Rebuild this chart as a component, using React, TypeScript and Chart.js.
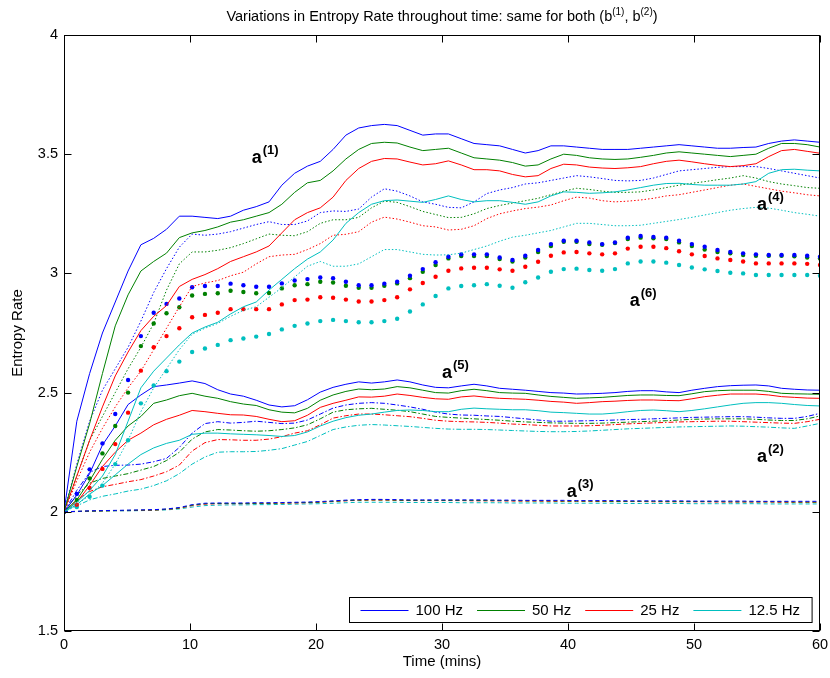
import React, { useEffect, useRef } from "react";
import { Chart, registerables } from "chart.js";

Chart.register(...registerables);

const FONT = "'Liberation Sans', Arial, Helvetica, sans-serif";

// sample times (60 samples spanning 0..60 min)
const TIMES = Array.from({ length: 60 }, (_, i) => (i * 60) / 59);

const X_TICKS = [0, 10, 20, 30, 40, 50, 60];
const Y_TICKS = [1.5, 2, 2.5, 3, 3.5, 4];
const FREQS = ["100 Hz", "50 Hz", "25 Hz", "12.5 Hz"];
const COLORS = ["#0000ff", "#008000", "#ff0000", "#00bfbf"];

// a(1): solid
const a1_100 = [
  2.0, 2.38, 2.58, 2.75, 2.88, 3.01, 3.12, 3.147, 3.185, 3.24,
  3.24, 3.235, 3.23, 3.24, 3.265, 3.28, 3.3, 3.37, 3.42, 3.45,
  3.47, 3.52, 3.58, 3.61, 3.62, 3.625, 3.62, 3.6, 3.58, 3.585,
  3.585, 3.565, 3.545, 3.54, 3.535, 3.52, 3.505, 3.515, 3.535, 3.535,
  3.53, 3.525, 3.52, 3.52, 3.52, 3.525, 3.53, 3.535, 3.54, 3.535,
  3.53, 3.525, 3.525, 3.528, 3.53, 3.545, 3.555, 3.56, 3.555, 3.55,
];
const a1_50 = [
  2.0, 2.19, 2.37, 2.58, 2.78, 2.91, 3.01, 3.05, 3.085, 3.15,
  3.17, 3.18, 3.195, 3.215, 3.225, 3.24, 3.255, 3.29, 3.34, 3.38,
  3.39, 3.43, 3.48, 3.52, 3.545, 3.55, 3.547, 3.53, 3.515, 3.52,
  3.525, 3.505, 3.485, 3.48, 3.475, 3.465, 3.45, 3.455, 3.48, 3.5,
  3.495, 3.485, 3.48, 3.478, 3.48, 3.487, 3.495, 3.505, 3.51, 3.505,
  3.5, 3.495, 3.49, 3.495, 3.5, 3.525, 3.545, 3.545, 3.54, 3.53,
];
const a1_25 = [
  2.0, 2.15, 2.3, 2.44, 2.57, 2.67, 2.76, 2.82, 2.865, 2.945,
  2.975, 2.995, 3.02, 3.05, 3.07, 3.09, 3.115, 3.17, 3.225, 3.255,
  3.275, 3.32, 3.39, 3.44, 3.47, 3.482, 3.48, 3.467, 3.455, 3.46,
  3.472, 3.455, 3.435, 3.435, 3.43, 3.415, 3.405, 3.41, 3.44, 3.458,
  3.455, 3.446, 3.442, 3.44, 3.443, 3.448, 3.46, 3.47, 3.475, 3.468,
  3.46, 3.453, 3.448, 3.452, 3.46, 3.49, 3.515, 3.52, 3.512, 3.504,
];
const a1_12 = [
  2.0, 2.04, 2.09, 2.15, 2.24, 2.38, 2.52, 2.59, 2.645, 2.7,
  2.75, 2.775, 2.795, 2.83, 2.86, 2.88, 2.93, 2.975, 3.02, 3.06,
  3.09, 3.14, 3.21, 3.255, 3.29, 3.305, 3.308, 3.303, 3.298, 3.31,
  3.325, 3.31, 3.3, 3.305, 3.305, 3.298, 3.29, 3.3, 3.325, 3.342,
  3.34, 3.336, 3.338, 3.342, 3.35, 3.36, 3.37, 3.377, 3.378, 3.373,
  3.37, 3.37, 3.37, 3.375, 3.385, 3.42, 3.435, 3.437, 3.433, 3.43,
];

// a(4): dotted
const a4_100 = [
  2.0, 2.2, 2.38, 2.51, 2.6, 2.69, 2.8, 2.92, 3.02, 3.11,
  3.165, 3.16, 3.165, 3.175, 3.19, 3.205, 3.217, 3.205, 3.205, 3.22,
  3.255, 3.262, 3.26, 3.27, 3.32, 3.355, 3.345, 3.325, 3.3, 3.29,
  3.277, 3.275, 3.3, 3.335, 3.35, 3.36, 3.375, 3.38, 3.39, 3.4,
  3.41, 3.405, 3.398, 3.39, 3.388, 3.39, 3.4, 3.415, 3.43, 3.435,
  3.44, 3.445, 3.448, 3.448, 3.448, 3.44, 3.43, 3.42, 3.41, 3.4,
];
const a4_50 = [
  2.0, 2.15, 2.3, 2.4, 2.5, 2.6, 2.69, 2.79, 2.93, 3.04,
  3.09, 3.09, 3.097, 3.108, 3.125, 3.145, 3.165, 3.16, 3.158, 3.175,
  3.21, 3.225, 3.225, 3.235, 3.275, 3.303, 3.298, 3.28, 3.26, 3.247,
  3.234, 3.235, 3.25, 3.272, 3.285, 3.295, 3.305, 3.315, 3.33, 3.345,
  3.357, 3.352, 3.345, 3.34, 3.34, 3.342, 3.35, 3.36, 3.37, 3.378,
  3.385, 3.393, 3.4, 3.41, 3.4, 3.385, 3.375, 3.368, 3.36, 3.357,
];
const a4_25 = [
  2.0, 2.13, 2.25, 2.35, 2.44, 2.52, 2.59, 2.68, 2.77, 2.86,
  2.945, 2.96, 2.97, 2.99, 3.005, 3.04, 3.07, 3.077, 3.08, 3.1,
  3.125, 3.16, 3.164, 3.175, 3.215, 3.236, 3.228, 3.215, 3.2, 3.195,
  3.182, 3.185, 3.2, 3.23, 3.25, 3.262, 3.272, 3.278, 3.287, 3.305,
  3.32, 3.316, 3.305, 3.3, 3.303, 3.308, 3.315, 3.325, 3.33, 3.34,
  3.35, 3.36, 3.37, 3.375, 3.365, 3.355, 3.345, 3.338, 3.33, 3.325,
];
const a4_12 = [
  2.0, 2.03, 2.07, 2.12, 2.2, 2.3, 2.42, 2.52, 2.6, 2.68,
  2.745, 2.77, 2.79, 2.82, 2.845, 2.86, 2.9, 2.94, 2.985, 3.03,
  3.05, 3.03, 3.03, 3.04, 3.07, 3.1, 3.1, 3.09, 3.08, 3.077,
  3.078, 3.085, 3.1, 3.115, 3.135, 3.152, 3.16, 3.17, 3.18, 3.195,
  3.21, 3.21, 3.205, 3.2, 3.2, 3.202, 3.21, 3.218, 3.226, 3.235,
  3.245, 3.255, 3.265, 3.272, 3.277, 3.274, 3.265, 3.255, 3.248, 3.24,
];

// a(6): dots
const a6_100 = [
  2.0, 2.075, 2.178, 2.287, 2.41, 2.553, 2.737, 2.835, 2.872, 2.895,
  2.942, 2.947, 2.947, 2.957, 2.95, 2.944, 2.944, 2.958, 2.97, 2.976,
  2.983, 2.98, 2.965, 2.95, 2.95, 2.957, 2.965, 2.99, 3.018, 3.047,
  3.07, 3.08, 3.08, 3.08, 3.067, 3.056, 3.074, 3.098, 3.123, 3.137,
  3.137, 3.13, 3.123, 3.13, 3.15, 3.157, 3.153, 3.15, 3.137, 3.123,
  3.112, 3.098, 3.09, 3.084, 3.08, 3.077, 3.077, 3.077, 3.074, 3.07,
];
const a6_50 = [
  2.0, 2.05, 2.14, 2.245, 2.36, 2.5, 2.695, 2.79, 2.833, 2.858,
  2.907, 2.914, 2.917, 2.927, 2.922, 2.917, 2.918, 2.937, 2.95, 2.955,
  2.965, 2.962, 2.948, 2.94, 2.94, 2.948, 2.958, 2.98, 3.007, 3.035,
  3.063, 3.073, 3.073, 3.073, 3.06, 3.05, 3.067, 3.09, 3.115, 3.133,
  3.133, 3.123, 3.12, 3.127, 3.144, 3.15, 3.147, 3.144, 3.13, 3.115,
  3.1, 3.09, 3.084, 3.077, 3.074, 3.074, 3.074, 3.072, 3.067, 3.063,
];
const a6_25 = [
  2.0, 2.03, 2.1, 2.18, 2.284, 2.416, 2.592, 2.69, 2.737, 2.77,
  2.816, 2.826, 2.835, 2.85, 2.85, 2.85, 2.85, 2.87, 2.888, 2.89,
  2.9, 2.898, 2.89, 2.882, 2.882, 2.888, 2.9, 2.933, 2.96, 2.986,
  3.011, 3.021, 3.024, 3.024, 3.017, 3.011, 3.028, 3.049, 3.074, 3.088,
  3.09, 3.084, 3.08, 3.084, 3.104, 3.112, 3.112, 3.106, 3.093, 3.08,
  3.073, 3.063, 3.056, 3.05, 3.042, 3.042, 3.042, 3.042, 3.04, 3.035,
];
const a6_12 = [
  2.0, 2.02, 2.063, 2.11, 2.2, 2.3, 2.455, 2.53, 2.59, 2.63,
  2.67, 2.685, 2.7, 2.72, 2.727, 2.735, 2.746, 2.765, 2.78, 2.79,
  2.8, 2.805, 2.8, 2.795, 2.795, 2.8, 2.81, 2.84, 2.87, 2.905,
  2.937, 2.947, 2.95, 2.955, 2.948, 2.94, 2.963, 2.983, 3.007, 3.018,
  3.02, 3.014, 3.011, 3.018, 3.042, 3.05, 3.05, 3.045, 3.035, 3.025,
  3.017, 3.01, 3.003, 3.0, 2.993, 2.993, 2.993, 2.993, 2.993, 2.99,
];

// a(5): solid
const a5_100 = [
  2.0, 2.07, 2.16, 2.28, 2.36, 2.45, 2.49, 2.525, 2.532, 2.54,
  2.549, 2.538, 2.512, 2.494, 2.485, 2.468, 2.448, 2.44, 2.445, 2.47,
  2.502, 2.522, 2.535, 2.545, 2.54, 2.545, 2.553, 2.545, 2.532, 2.522,
  2.52, 2.528, 2.535, 2.528, 2.518, 2.514, 2.51, 2.505, 2.5, 2.498,
  2.494, 2.495, 2.497, 2.5, 2.505, 2.508, 2.508, 2.503, 2.5, 2.51,
  2.518, 2.525, 2.529, 2.531, 2.532, 2.528, 2.518, 2.514, 2.511, 2.51,
];
const a5_50 = [
  2.0, 2.05, 2.13, 2.22, 2.3, 2.36, 2.4, 2.455, 2.469, 2.487,
  2.497, 2.485, 2.476, 2.462, 2.452, 2.446, 2.428, 2.418, 2.415, 2.434,
  2.468, 2.49, 2.505, 2.515, 2.512, 2.515, 2.525, 2.52, 2.51, 2.5,
  2.498, 2.508, 2.514, 2.508, 2.5, 2.498, 2.497, 2.49, 2.484, 2.48,
  2.476, 2.478, 2.48, 2.484, 2.488, 2.49, 2.49, 2.488, 2.487, 2.495,
  2.504, 2.508, 2.51, 2.51, 2.51, 2.505, 2.497, 2.495, 2.494, 2.493,
];
const a5_25 = [
  2.0, 2.04, 2.11, 2.19, 2.25, 2.3, 2.33, 2.365, 2.388, 2.405,
  2.425, 2.42, 2.413, 2.407, 2.406, 2.4, 2.388, 2.378, 2.382, 2.405,
  2.438, 2.455, 2.468, 2.482, 2.481, 2.485, 2.494, 2.488, 2.48, 2.474,
  2.472, 2.482, 2.486, 2.48, 2.476, 2.474, 2.472, 2.468, 2.463, 2.46,
  2.455, 2.458, 2.462, 2.464, 2.467, 2.469, 2.469, 2.467, 2.466, 2.474,
  2.483, 2.489, 2.494, 2.494, 2.494, 2.49, 2.483, 2.48, 2.477, 2.476,
];
const a5_12 = [
  2.0, 2.03, 2.075, 2.11, 2.155, 2.2, 2.24, 2.268, 2.287, 2.3,
  2.325, 2.33, 2.33, 2.327, 2.325, 2.323, 2.32, 2.316, 2.32, 2.335,
  2.36, 2.38, 2.395, 2.405, 2.41, 2.418, 2.425, 2.427, 2.425, 2.42,
  2.42, 2.43, 2.435, 2.432, 2.43, 2.428, 2.428, 2.424, 2.418, 2.416,
  2.413, 2.41, 2.41, 2.414, 2.42, 2.425, 2.427, 2.424, 2.42, 2.425,
  2.432, 2.44, 2.448, 2.455, 2.458, 2.458, 2.455, 2.45, 2.446, 2.444,
];

// a(2): dash-dot
const a2_100 = [
  2.0, 2.09, 2.165, 2.19, 2.195, 2.196, 2.2, 2.21, 2.224, 2.27,
  2.33, 2.37, 2.378, 2.372, 2.375, 2.38, 2.375, 2.37, 2.372, 2.385,
  2.41, 2.435, 2.448, 2.455, 2.458, 2.455, 2.448, 2.44, 2.43, 2.418,
  2.41, 2.406, 2.405, 2.402, 2.4, 2.395, 2.39, 2.385, 2.38, 2.38,
  2.381, 2.382, 2.383, 2.385, 2.387, 2.388, 2.39, 2.392, 2.394, 2.396,
  2.397, 2.398, 2.399, 2.399, 2.397, 2.394, 2.392, 2.392, 2.4, 2.413,
];
const a2_50 = [
  2.0, 2.07, 2.12, 2.14, 2.15, 2.16, 2.175, 2.19, 2.215, 2.25,
  2.305, 2.335, 2.345, 2.343, 2.34, 2.338, 2.34, 2.345, 2.352, 2.365,
  2.39, 2.418, 2.428, 2.432, 2.434, 2.43, 2.426, 2.42, 2.41, 2.4,
  2.396, 2.393, 2.39, 2.387, 2.384, 2.38, 2.377, 2.375, 2.373, 2.372,
  2.371, 2.371, 2.372, 2.374, 2.376, 2.378, 2.38, 2.382, 2.385, 2.388,
  2.389, 2.39, 2.39, 2.39, 2.388, 2.385, 2.383, 2.383, 2.39, 2.402,
];
const a2_25 = [
  2.0, 2.05, 2.085, 2.105, 2.115, 2.126, 2.135, 2.15, 2.168, 2.196,
  2.255, 2.29, 2.303, 2.302, 2.3, 2.3, 2.305, 2.315, 2.33, 2.34,
  2.365, 2.393, 2.403, 2.41, 2.41, 2.407, 2.403, 2.399, 2.392, 2.384,
  2.38, 2.378, 2.377, 2.375, 2.372, 2.368, 2.366, 2.363, 2.36, 2.36,
  2.36, 2.361, 2.363, 2.366, 2.369, 2.371, 2.373, 2.375, 2.377, 2.378,
  2.379, 2.38, 2.38, 2.378, 2.376, 2.374, 2.372, 2.371, 2.378, 2.388,
];
const a2_12 = [
  2.0, 2.025, 2.05, 2.065, 2.075, 2.087, 2.095, 2.11, 2.13, 2.16,
  2.2, 2.23, 2.25, 2.252, 2.252, 2.253, 2.258, 2.265, 2.28, 2.295,
  2.32, 2.345, 2.356, 2.363, 2.366, 2.364, 2.361, 2.358, 2.354, 2.35,
  2.347, 2.346, 2.346, 2.345, 2.343, 2.341, 2.339, 2.337, 2.336, 2.336,
  2.337, 2.339, 2.342, 2.345, 2.348, 2.35, 2.352, 2.354, 2.356, 2.357,
  2.358, 2.359, 2.36, 2.359, 2.357, 2.355, 2.352, 2.35, 2.36, 2.371,
];

// a(3): dashed
const a3_100 = [
  2.0, 2.002, 2.004, 2.005, 2.006, 2.007, 2.008, 2.009, 2.012, 2.018,
  2.03, 2.036, 2.037, 2.037, 2.037, 2.038, 2.038, 2.039, 2.04, 2.041,
  2.043, 2.046, 2.049, 2.051, 2.052, 2.052, 2.051, 2.05, 2.05, 2.05,
  2.05, 2.05, 2.05, 2.05, 2.049, 2.049, 2.048, 2.048, 2.048, 2.048,
  2.047, 2.047, 2.047, 2.047, 2.046, 2.046, 2.046, 2.046, 2.046, 2.045,
  2.045, 2.045, 2.045, 2.045, 2.044, 2.044, 2.044, 2.044, 2.044, 2.044,
];
const a3_50 = [
  2.0, 2.002, 2.003, 2.004, 2.005, 2.006, 2.007, 2.008, 2.011, 2.016,
  2.028, 2.034, 2.035, 2.035, 2.035, 2.036, 2.036, 2.037, 2.038, 2.039,
  2.041, 2.044, 2.047, 2.049, 2.05, 2.05, 2.049, 2.048, 2.048, 2.048,
  2.048, 2.048, 2.048, 2.047, 2.047, 2.047, 2.046, 2.046, 2.046, 2.045,
  2.045, 2.045, 2.045, 2.044, 2.044, 2.044, 2.044, 2.043, 2.043, 2.043,
  2.043, 2.043, 2.042, 2.042, 2.042, 2.042, 2.042, 2.041, 2.041, 2.041,
];
const a3_25 = [
  2.0, 2.001, 2.003, 2.004, 2.005, 2.005, 2.006, 2.007, 2.01, 2.015,
  2.026, 2.032, 2.034, 2.034, 2.034, 2.035, 2.035, 2.036, 2.037, 2.038,
  2.04, 2.043, 2.046, 2.048, 2.049, 2.049, 2.048, 2.047, 2.047, 2.047,
  2.047, 2.047, 2.046, 2.046, 2.046, 2.045, 2.045, 2.045, 2.044, 2.044,
  2.044, 2.044, 2.043, 2.043, 2.043, 2.043, 2.042, 2.042, 2.042, 2.042,
  2.042, 2.041, 2.041, 2.041, 2.041, 2.041, 2.04, 2.04, 2.04, 2.04,
];
const a3_12 = [
  2.0, 2.001, 2.002, 2.003, 2.004, 2.004, 2.005, 2.006, 2.008, 2.012,
  2.02, 2.026, 2.028, 2.029, 2.029, 2.03, 2.03, 2.031, 2.032, 2.033,
  2.034, 2.036, 2.038, 2.04, 2.04, 2.04, 2.04, 2.039, 2.039, 2.039,
  2.039, 2.038, 2.038, 2.038, 2.038, 2.037, 2.037, 2.037, 2.037, 2.036,
  2.036, 2.036, 2.036, 2.036, 2.035, 2.035, 2.035, 2.035, 2.035, 2.034,
  2.034, 2.034, 2.034, 2.034, 2.034, 2.033, 2.033, 2.033, 2.033, 2.033,
];

const GROUPS = [
  { kind: "solid", series: [a1_100, a1_50, a1_25, a1_12] },
  { kind: "dotted", series: [a4_100, a4_50, a4_25, a4_12] },
  { kind: "dots", series: [a6_100, a6_50, a6_25, a6_12] },
  { kind: "solid", series: [a5_100, a5_50, a5_25, a5_12] },
  { kind: "dashdot", series: [a2_100, a2_50, a2_25, a2_12] },
  { kind: "dashed", series: [a3_100, a3_50, a3_25, a3_12] },
];

// group labels a^(k), anchored in data coordinates
const LABEL_NAMES = ["(1)", "(4)", "(6)", "(5)", "(2)", "(3)"];
const LABEL_X = [14.9, 55.0, 44.9, 30.0, 55.0, 39.9];
const LABEL_Y = [3.463, 3.266, 2.863, 2.561, 2.209, 2.062];

const TITLE_PARTS: [string, boolean][] = [
  ["Variations in Entropy Rate throughout time: same for both (b", false],
  ["(1)", true],
  [", b", false],
  ["(2)", true],
  [")", false],
];

const DASHES: Record<string, number[]> = {
  solid: [],
  dotted: [1.5, 2],
  dashdot: [5, 2, 1.5, 2],
  dashed: [4, 3],
};

const decorPlugin = {
  id: "decor",
  afterDraw(chart: any) {
    const { ctx, chartArea: ca, scales } = chart;
    const xs = scales.x;
    const ys = scales.y;
    ctx.save();
    // frame
    ctx.strokeStyle = "#000";
    ctx.lineWidth = 1;
    ctx.setLineDash([]);
    const L = Math.round(ca.left) + 0.5;
    const R = Math.round(ca.right) - 0.5;
    const T = Math.round(ca.top) + 0.5;
    const B = Math.round(ca.bottom) - 0.5;
    ctx.strokeRect(L, T, R - L, B - T);
    const tl = 7;
    ctx.beginPath();
    X_TICKS.forEach((v) => {
      const p = Math.round(xs.getPixelForValue(v)) + 0.5;
      ctx.moveTo(p, B);
      ctx.lineTo(p, B - tl);
      ctx.moveTo(p, T);
      ctx.lineTo(p, T + tl);
    });
    Y_TICKS.forEach((v) => {
      const p = Math.round(ys.getPixelForValue(v)) + 0.5;
      ctx.moveTo(L, p);
      ctx.lineTo(L + tl, p);
      ctx.moveTo(R, p);
      ctx.lineTo(R - tl, p);
    });
    ctx.stroke();

    // group labels
    ctx.fillStyle = "#000";
    ctx.textBaseline = "alphabetic";
    ctx.textAlign = "left";
    LABEL_NAMES.forEach((sup, i) => {
      const px = xs.getPixelForValue(LABEL_X[i]);
      const py = ys.getPixelForValue(LABEL_Y[i]);
      ctx.font = `bold 18px ${FONT}`;
      ctx.fillText("a", px, py);
      const w = ctx.measureText("a").width;
      ctx.font = `bold 13px ${FONT}`;
      ctx.fillText(sup, px + w + 1, py - 9);
    });

    // title
    const tFont = `14.5px ${FONT}`;
    const sFont = `10px ${FONT}`;
    let total = 0;
    TITLE_PARTS.forEach(([t, s]) => {
      ctx.font = s ? sFont : tFont;
      total += ctx.measureText(t).width;
    });
    let tx = (ca.left + ca.right) / 2 - total / 2;
    const ty = 21;
    TITLE_PARTS.forEach(([t, s]) => {
      ctx.font = s ? sFont : tFont;
      ctx.fillText(t, tx, s ? ty - 6 : ty);
      tx += ctx.measureText(t).width;
    });

    // legend
    ctx.font = `15px ${FONT}`;
    const lineLen = 48;
    const gapLT = 7;
    const gapTL = 14;
    const padL = 11;
    const padR = 12;
    let w = padL + padR;
    FREQS.forEach((f, i) => {
      w += lineLen + gapLT + ctx.measureText(f).width;
      if (i < FREQS.length - 1) w += gapTL;
    });
    const bh = 25;
    const bx = Math.round(ca.right - 8 - w) + 0.5;
    const by = Math.round(ca.bottom - 9 - bh) + 0.5;
    ctx.fillStyle = "#fff";
    ctx.fillRect(bx, by, w, bh);
    ctx.strokeStyle = "#000";
    ctx.lineWidth = 1;
    ctx.strokeRect(bx, by, w, bh);
    let lx = bx + padL;
    const ly = by + bh / 2;
    FREQS.forEach((f, i) => {
      ctx.strokeStyle = COLORS[i];
      ctx.beginPath();
      ctx.moveTo(lx, Math.round(ly) + 0.5);
      ctx.lineTo(lx + lineLen, Math.round(ly) + 0.5);
      ctx.stroke();
      lx += lineLen + gapLT;
      ctx.fillStyle = "#000";
      ctx.textBaseline = "middle";
      ctx.fillText(f, lx, ly + 1);
      lx += ctx.measureText(f).width + gapTL;
    });
    ctx.restore();
  },
};

export default function App() {
  const ref = useRef<HTMLCanvasElement | null>(null);

  useEffect(() => {
    if (!ref.current) return;
    const datasets: any[] = [];
    GROUPS.forEach((g) => {
      g.series.forEach((vals, i) => {
        const data = vals.map((y, k) => ({ x: TIMES[k], y }));
        if (g.kind === "dots") {
          datasets.push({
            data,
            showLine: false,
            pointRadius: 2.2,
            pointBorderWidth: 0,
            pointBackgroundColor: COLORS[i],
            borderColor: COLORS[i],
            backgroundColor: COLORS[i],
          });
        } else {
          datasets.push({
            data,
            borderColor: COLORS[i],
            backgroundColor: COLORS[i],
            borderWidth: 1,
            borderDash: DASHES[g.kind],
            pointRadius: 0,
            fill: false,
            tension: 0,
          });
        }
      });
    });

    const tickFont = { family: FONT, size: 14.5 };
    const chart = new Chart(ref.current, {
      type: "line",
      data: { datasets },
      options: {
        animation: false,
        responsive: false,
        maintainAspectRatio: false,
        events: [],
        layout: { padding: { left: 0, right: 10, top: 35, bottom: 0 } },
        plugins: {
          legend: { display: false },
          title: { display: false },
          tooltip: { enabled: false },
        },
        scales: {
          x: {
            type: "linear",
            min: 0,
            max: 60,
            grid: { display: false, drawTicks: false },
            border: { display: false },
            ticks: {
              stepSize: 10,
              color: "#000",
              font: tickFont,
              padding: 5,
              maxRotation: 0,
              callback: (v: any) => String(v),
            },
            title: {
              display: true,
              text: "Time (mins)",
              color: "#000",
              font: { family: FONT, size: 15 },
              padding: { top: 0, bottom: 7 },
            },
            afterFit: (s: any) => {
              s.height = 47;
              s.paddingLeft = 0;
              s.paddingRight = 0;
            },
          },
          y: {
            type: "linear",
            min: 1.5,
            max: 4,
            grid: { display: false, drawTicks: false },
            border: { display: false },
            ticks: {
              stepSize: 0.5,
              color: "#000",
              font: tickFont,
              padding: 6,
              callback: (v: any) => String(v),
            },
            title: {
              display: true,
              text: "Entropy Rate",
              color: "#000",
              font: { family: FONT, size: 15 },
              padding: { top: 9, bottom: 0 },
            },
            afterFit: (s: any) => {
              s.width = 64;
              s.paddingTop = 0;
              s.paddingBottom = 0;
            },
          },
        },
      },
      plugins: [decorPlugin],
    });
    return () => chart.destroy();
  }, []);

  return (
    <div
      style={{
        position: "fixed",
        left: 0,
        top: 0,
        width: 830,
        height: 678,
        background: "#fff",
      }}
    >
      <canvas ref={ref} width={830} height={678} style={{ display: "block" }} />
    </div>
  );
}
